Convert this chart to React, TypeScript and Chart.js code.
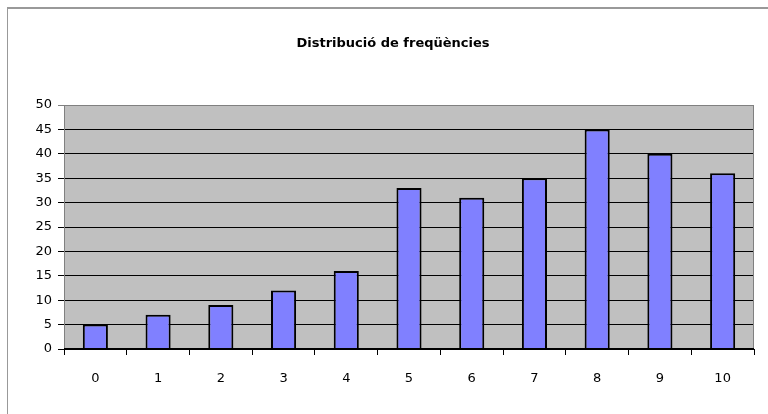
import React, { useEffect, useRef } from "react";
import { Chart, registerables } from "chart.js";

Chart.register(...registerables);

const categories = ["0", "1", "2", "3", "4", "5", "6", "7", "8", "9", "10"];
const frequencies = [5, 7, 9, 12, 16, 33, 31, 35, 45, 40, 36];
const titleText = "Distribució de freqüències";

const framePlugin = {
  id: "frame",
  beforeDraw(chart: any) {
    const { ctx, chartArea } = chart;
    ctx.save();
    ctx.fillStyle = "#ffffff";
    ctx.fillRect(0, 0, chart.width, chart.height);
    ctx.fillStyle = "#999999";
    ctx.fillRect(7, 7, chart.width, 2);
    ctx.fillRect(7, 7, 1, chart.height);
    ctx.fillStyle = "#c0c0c0";
    ctx.fillRect(chartArea.left, chartArea.top, chartArea.right - chartArea.left, chartArea.bottom - chartArea.top);
    ctx.restore();
  },
  afterDatasetsDraw(chart: any) {
    const { ctx, chartArea } = chart;
    ctx.save();
    ctx.strokeStyle = "#808080";
    ctx.lineWidth = 1;
    ctx.beginPath();
    ctx.moveTo(chartArea.left + 0.5, chartArea.bottom);
    ctx.lineTo(chartArea.left + 0.5, chartArea.top + 0.5);
    ctx.lineTo(chartArea.right - 0.5, chartArea.top + 0.5);
    ctx.lineTo(chartArea.right - 0.5, chartArea.bottom);
    ctx.stroke();
    ctx.strokeStyle = "#000000";
    ctx.beginPath();
    ctx.moveTo(chartArea.left, chartArea.bottom - 0.5);
    ctx.lineTo(chartArea.right, chartArea.bottom - 0.5);
    ctx.stroke();
    ctx.fillStyle = "#000000";
    ctx.font = "bold 13px 'DejaVu Sans'";
    ctx.textAlign = "center";
    ctx.textBaseline = "middle";
    ctx.fillText(titleText, 393, 44);
    ctx.restore();
  },
};

export default function App() {
  const ref = useRef<HTMLCanvasElement | null>(null);
  useEffect(() => {
    document.body.style.margin = "0";
    if (!ref.current) return;
    const chart = new Chart(ref.current, {
      type: "bar",
      data: {
        labels: categories,
        datasets: [
          {
            data: frequencies,
            backgroundColor: "#8080ff",
            borderColor: "#000000",
            borderWidth: 2,
            borderSkipped: "bottom",
            categoryPercentage: 1,
            barPercentage: 0.4,
          },
        ],
      },
      options: {
        animation: false,
        responsive: false,
        layout: { padding: { left: 0, right: 14, top: 105, bottom: 20 } },
        plugins: { legend: { display: false }, tooltip: { enabled: false }, title: { display: false } },
        scales: {
          x: {
            offset: true,
            grid: {
              offset: true,
              drawOnChartArea: false,
              drawTicks: true,
              tickLength: 6,
              color: "#000000",
            },
            border: { display: false },
            ticks: { color: "#000000", font: { family: "DejaVu Sans", size: 13 }, padding: 16 },
            afterFit(scale: any) {
              scale.height = 45;
            },
          },
          y: {
            min: 0,
            max: 50,
            ticks: { stepSize: 5, color: "#000000", font: { family: "DejaVu Sans", size: 13 }, padding: 6 },
            grid: {
              color: (c: any) => (c.tick && c.tick.value === 50 ? "#808080" : "#000000"),
              tickLength: 6,
            },
            border: { display: false },
            afterFit(scale: any) {
              scale.width = 64;
            },
          },
        },
      },
      plugins: [framePlugin],
    });
    return () => chart.destroy();
  }, []);
  return <canvas ref={ref} width={768} height={414} style={{ display: "block" }} />;
}
